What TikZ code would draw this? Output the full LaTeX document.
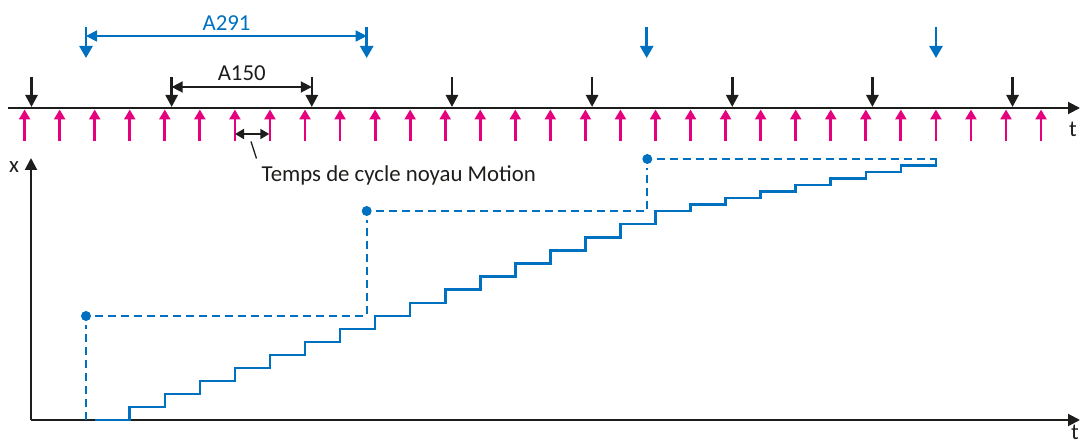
\documentclass[tikz,border=0pt]{standalone}
\usepackage{fontspec}
\setmainfont{Carlito}
\usetikzlibrary{arrows.meta}
\definecolor{cblue}{HTML}{0070C0}
\definecolor{cmag}{HTML}{E5007D}
\definecolor{cblk}{HTML}{1D1D1B}
\begin{document}
\begin{tikzpicture}[x=1pt,y=-1pt,
  every node/.style={font=\fontsize{22.8}{27}\selectfont, inner sep=0pt, text=cblk},
  axis/.style={cblk, line width=2pt, -{Triangle[length=12pt,width=12pt]}},
  magarrow/.style={cmag, line width=2.8pt, -{Triangle[length=10pt,width=11pt]}},
  blkarrow/.style={cblk, line width=2.6pt, -{Triangle[length=12pt,width=12pt]}},
  bluearrow/.style={cblue, line width=2.6pt, -{Triangle[length=12pt,width=13pt]}},
  dimblk/.style={cblk, line width=1.8pt, {Triangle[length=11pt,width=11pt]}-{Triangle[length=11pt,width=11pt]}},
  dimblue/.style={cblue, line width=1.8pt, {Triangle[length=11pt,width=11pt]}-{Triangle[length=11pt,width=11pt]}},
  dimsmall/.style={cblk, line width=1.8pt, {Triangle[length=9pt,width=10pt]}-{Triangle[length=9pt,width=10pt]}},
  guide/.style={cblue, line width=1.7pt, dash pattern=on 8pt off 5pt},
  stair/.style={cblue, line width=2.6pt},
  gdot/.style={circle, fill=cblue, minimum size=10pt, inner sep=0pt}
]
\useasboundingbox (0,0) rectangle (1085,446);

% upper timeline
\coordinate (t0) at (8,108);
\coordinate (t1) at (1080,108);
\draw[axis] (t0) -- (t1);
\node (tlab) at (1073,129) {t};

% magenta cycle arrows
\foreach \i in {0,...,29} {
  \coordinate (mb\i) at ({24.6+35.05*\i},141);
  \coordinate (mt\i) at ({24.6+35.05*\i},109.5);
  \draw[magarrow] (mb\i) -- (mt\i);
}

% black arrows
\foreach \k in {0,...,7} {
  \coordinate (kb\k) at ({31.5+140.15*\k},77);
  \coordinate (kt\k) at ({31.5+140.15*\k},107);
  \draw[blkarrow] (kb\k) -- (kt\k);
}

% A150
\coordinate (a1) at (171.65,87);
\coordinate (a2) at (311.8,87);
\draw[dimblk] (a1) -- (a2);
\node (A150) at (241.7,73) {A150};

% blue arrows
\foreach \n/\x in {0/86,1/366.7,2/646.7,3/936} {
  \coordinate (bb\n) at (\x,27);
  \coordinate (bt\n) at (\x,58);
  \draw[bluearrow] (bb\n) -- (bt\n);
}

% A291
\coordinate (c1) at (86,36);
\coordinate (c2) at (366.7,36);
\draw[dimblue] (c1) -- (c2);
\node[text=cblue] (A291) at (226.5,23) {A291};

% cycle time
\coordinate (e1) at (235,134);
\coordinate (e2) at (269.3,134);
\draw[dimsmall] (e1) -- (e2);
\node[anchor=base west] (cyc) at (261.5,181.5) {Temps de cycle noyau Motion};
\coordinate (l1) at (251,141.5);
\coordinate (l2) at (256.5,158.5);
\draw[cblk, line width=1.3pt] (l1) -- (l2);

% lower axes
\coordinate (o) at (31,420);
\coordinate (ytop) at (31,158);
\coordinate (xend) at (1080,420);
\draw[axis] (o) -- (ytop);
\draw[axis] (o) -- (xend);
\node (xlab) at (14,167.5) {x};
\node[anchor=base] (tlab2) at (1075,439.5) {t};

% set-point guides
\node[gdot] (d1) at (86,316) {};
\node[gdot] (d2) at (366.7,211) {};
\node[gdot] (d3) at (647.3,159) {};
\coordinate (g0) at (86,420);
\coordinate (g1) at (366.7,316);
\coordinate (g2) at (647.3,211);
\coordinate (g3) at (936.5,159);
\draw[guide, shorten >=4pt] (g0) -- (d1);
\draw[guide, shorten <=4pt, shorten >=4pt] (d1) -- (g1) -- (d2);
\draw[guide, shorten <=4pt, shorten >=4pt] (d2) -- (g2) -- (d3);
\draw[guide, shorten <=4pt] (d3) -- (g3);

% staircase
\coordinate (s0) at (94.7,420);
\draw[stair] (s0)
  \foreach \i/\yy in {3/407,4/394,5/381,6/368,7/355,8/342,9/329,10/316,
    11/302.875,12/289.75,13/276.625,14/263.5,15/250.375,16/237.25,17/224.125,18/211,
    19/204.5,20/198,21/191.5,22/185,23/178.5,24/172,25/165.5,26/159} {
    -| ({24.6+35.05*\i},\yy)
  };
\end{tikzpicture}
\end{document}
